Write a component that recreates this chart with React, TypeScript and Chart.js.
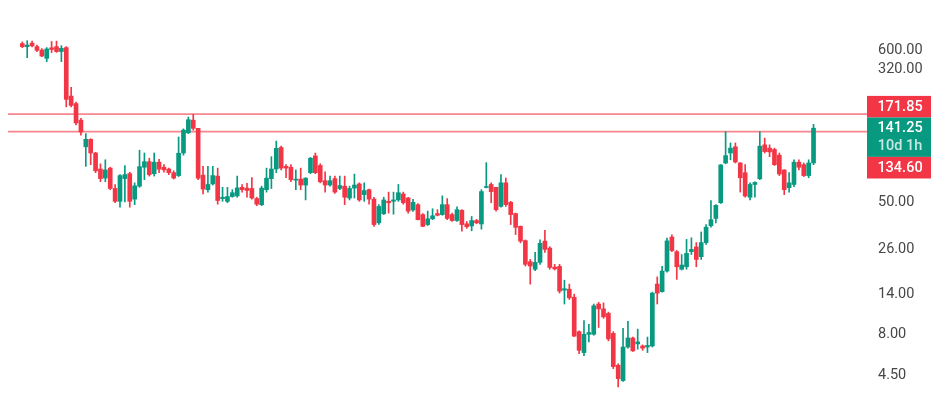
import React, { useEffect, useRef } from "react";
import { Chart, registerables } from "chart.js";

Chart.register(...registerables);

// Candle values (price), one entry per candle, left to right
const openPrices = [
  459, 440, 462, 440, 420, 374, 433, 440, 411, 434,
  221, 199, 158, 109, 121, 100, 80, 70.5, 81, 61,
  51, 70, 75, 52.6, 63, 82, 88.6, 75, 88, 82,
  80, 76, 73, 100, 132.5, 158, 141, 73.5, 60, 65,
  72.5, 53, 51, 54.5, 55, 62, 61.3, 61, 53, 48.7,
  60, 70, 80, 108, 83, 82, 68.5, 69.5, 64, 76,
  96, 84, 68, 64, 70, 61, 63, 53.4, 61.3, 65,
  56, 60, 52.6, 37.8, 42.9, 51, 51, 52, 56.5, 53.4,
  45.2, 48.7, 42.4, 36.9, 40, 43, 42.4, 48.7, 42.4, 39,
  45, 37.3, 36.2, 39, 37.2, 61.8, 64.5, 62, 47.5, 66,
  50.3, 43, 36, 29.5, 22, 19.8, 21.8, 29.3, 26.6, 20.4,
  20.6, 14.8, 15, 13.4, 8.3, 6.2, 8.0, 8.0, 12.2, 11.4,
  10.7, 8.1, 5.2, 4.2, 6.7, 7.6, 7.0, 6.8, 6.7, 6.8,
  16.1, 14.5, 19.3, 31, 25.3, 19.8, 20.5, 25.3, 27, 23.6,
  28.7, 36.3, 40.2, 50, 87, 100, 109, 87, 76, 54,
  64.5, 69.8, 112, 107, 105, 97, 79, 61.7, 64.5, 88,
  85, 73, 87,
];

const closePrices = [
  440, 450, 445, 418, 386, 426, 423, 411, 430, 211,
  194, 152, 134, 121, 100, 78, 70, 79, 61, 51,
  73, 74, 51, 63.3, 82.7, 88.6, 74, 88, 79.8, 79,
  76, 70.5, 99.6, 137.5, 159, 141, 70.4, 60.5, 64.5, 73,
  51.6, 54, 54.5, 57.5, 61.5, 60, 59.3, 53.4, 49, 61.3,
  70.4, 80, 106.7, 81, 81, 69, 69.5, 64, 70.4, 93,
  76, 67, 64, 68, 58, 63.5, 54, 61, 64, 52,
  59.3, 52.6, 36.9, 47.5, 52, 50, 52, 57.5, 50, 44.5,
  50.3, 39.5, 36, 40, 41.7, 42, 48.7, 40.2, 39, 45.4,
  36.9, 35.8, 39, 37.8, 58.4, 62.5, 58.4, 45.4, 66, 48.7,
  42.4, 35.5, 29.3, 21.2, 20.7, 21.8, 28.4, 26.1, 20.3, 19.9,
  14.6, 15.1, 13.3, 7.8, 6.4, 8.0, 8.2, 11.9, 11.4, 10.2,
  7.5, 5.1, 4.31, 6.7, 7.6, 6.35, 7.2, 6.6, 6.85, 14.2,
  14.2, 19.3, 29.4, 25.7, 20.5, 21, 24.7, 26.1, 22.7, 28.7,
  35.6, 39.5, 48.2, 84.7, 96.4, 107, 88.2, 70.8, 54.9, 64.5,
  66.4, 110, 102, 101.5, 85, 74.6, 60, 66, 88, 82,
  73, 87, 141.25,
];

const highPrices = [
  470, 478, 475, 450, 428, 434, 473, 475, 446, 440,
  250, 203, 162, 131, 122, 101, 86, 91, 82, 64.5,
  74, 84, 76.5, 66, 104, 100, 93, 100, 91.6, 85,
  81, 78, 125, 140, 165, 171.6, 141, 83, 83, 83,
  81, 62, 62, 60, 72.5, 64.5, 65.5, 71, 54, 63,
  81, 95, 118, 110, 85, 85, 79, 81, 71, 94,
  100, 86, 77, 72.5, 72.5, 72.5, 72.5, 63, 74.5, 66,
  66, 60.5, 54, 48.7, 54, 58, 58, 64.5, 58, 54,
  52.5, 49.5, 43, 44.5, 46, 45.4, 55, 53, 43.3, 47.3,
  45.4, 38.5, 41.3, 39.7, 60, 87.4, 66, 62, 74, 70.4,
  51, 43.3, 36.2, 29.8, 22.7, 25.1, 29.8, 34, 27.1, 21.2,
  21.2, 17, 16.1, 14, 8.4, 9.7, 9.2, 12.2, 12.5, 12.4,
  10.9, 8.3, 5.3, 8.7, 9.6, 7.7, 8.6, 6.9, 7.7, 14.4,
  17.8, 20.6, 30.6, 32, 25.7, 24.3, 30, 30.7, 28.7, 33.3,
  36.9, 51.6, 48.7, 85, 134.6, 115, 115, 87.5, 85, 66,
  67, 134.6, 123, 112, 107, 100, 79, 76, 91, 91,
  87, 91, 149,
];

const lowPrices = [
  434, 377, 438, 410, 382, 357, 405, 406, 357, 190,
  190, 148, 128, 83, 85, 76, 67, 67, 60, 50,
  47, 50.5, 47, 48.7, 62, 69, 72.5, 72.5, 76, 76.5,
  74, 69.6, 72, 97, 131, 137.5, 69, 56.6, 58, 64,
  49, 51, 50, 54, 54, 58, 54, 52.6, 48, 48,
  58, 61, 76, 79, 71, 67, 60, 60, 52, 75,
  75, 66, 58, 63, 57, 60, 48.7, 52, 53.4, 51,
  51, 49, 36, 37, 42.4, 43.3, 42.6, 51, 49, 43.3,
  44.3, 39.3, 35.8, 36.4, 39.5, 41.6, 42, 39.5, 38.5, 38.5,
  33.6, 35, 33.8, 37.3, 34.6, 61.5, 50, 44.5, 47, 47.5,
  36.9, 32.1, 28.6, 20.7, 16.1, 19.4, 21.2, 25, 19.8, 19.6,
  14.2, 12.2, 13, 7.75, 6.1, 5.95, 7.2, 7.9, 8.8, 10.0,
  7.3, 4.96, 3.85, 4.15, 6.6, 6.3, 6.5, 6.4, 6.2, 6.7,
  12.2, 14.4, 19, 25.3, 17.2, 19.6, 19.8, 24.3, 20.5, 22.7,
  28, 35.6, 37.7, 49.5, 86, 91, 87, 58, 54, 52,
  54, 69, 100, 95, 84, 73, 56, 58, 62.6, 79,
  72, 70.8, 85,
];

// Price axis ticks (value where the label sits) and their texts
const tickValues = [4.5, 8, 14, 26, 50, 320, 418];
const tickLabels = ["4.50", "8.00", "14.00", "26.00", "50.00", "320.00", "600.00"];

// Horizontal levels and last-price badge
const levelLines = [171.85, 134.6];
const lastPrice = 141.25;
const countdownText = "10d 1h";

const GREEN = "#089981";
const RED = "#F23645";

export default function App() {
  const ref = useRef<HTMLCanvasElement | null>(null);

  useEffect(() => {
    if (!ref.current) return;
    const idx = openPrices.map((_, i) => i);
    const colors = idx.map((i) => (closePrices[i] >= openPrices[i] ? GREEN : RED));

    const overlay = {
      id: "overlay",
      beforeDatasetsDraw(chart: any) {
        const { ctx, chartArea } = chart;
        const yS = chart.scales.y;
        ctx.save();
        ctx.strokeStyle = "rgba(242,54,69,0.6)";
        ctx.lineWidth = 1.6;
        levelLines.forEach((v) => {
          const y = yS.getPixelForValue(v);
          ctx.beginPath();
          ctx.moveTo(chartArea.left, y);
          ctx.lineTo(867, y);
          ctx.stroke();
        });
        ctx.restore();
      },
      afterDraw(chart: any) {
        const { ctx } = chart;
        const yS = chart.scales.y;
        const py = yS.getPixelForValue(lastPrice);
        const bx = 867;
        const bw = 64;
        const gTop = py - 10.7;
        const gH = 39.4;
        const rH = 21.6;
        const cx = bx + bw / 2 + 1;
        ctx.save();
        ctx.fillStyle = RED;
        ctx.fillRect(bx, gTop - rH, bw, rH);
        ctx.fillStyle = GREEN;
        ctx.fillRect(bx, gTop, bw, gH);
        ctx.fillStyle = RED;
        ctx.fillRect(bx, gTop + gH, bw, rH);
        ctx.textAlign = "center";
        ctx.textBaseline = "middle";
        ctx.font = "500 14.5px Roboto";
        ctx.fillStyle = "#ffffff";
        ctx.fillText(levelLines[0].toFixed(2), cx, gTop - rH / 2 + 0.5);
        ctx.fillText(lastPrice.toFixed(2), cx, py + 0.5);
        ctx.fillText(levelLines[1].toFixed(2), cx, gTop + gH + rH / 2 + 0.5);
        ctx.fillStyle = "rgba(255,255,255,0.78)";
        ctx.fillText(countdownText, cx, py + 18.5);
        ctx.restore();
      },
    };

    const chart = new Chart(ref.current, {
      type: "bar",
      data: {
        datasets: [
          {
            label: "wick",
            data: idx.map((i) => ({ x: i, y: [lowPrices[i], highPrices[i]] })),
            backgroundColor: colors,
            barThickness: 1,
            grouped: false,
            order: 2,
          } as any,
          {
            label: "body",
            data: idx.map((i) => ({ x: i, y: [openPrices[i], closePrices[i]] })),
            backgroundColor: colors,
            barThickness: 4,
            minBarLength: 1,
            grouped: false,
            order: 1,
          } as any,
        ],
      },
      options: {
        animation: false,
        responsive: false,
        events: [],
        layout: { padding: { left: 8, top: 0, right: 0, bottom: 0 } },
        plugins: { legend: { display: false }, tooltip: { enabled: false } },
        scales: {
          x: {
            type: "linear",
            display: false,
            min: -2.93,
            max: 170.9,
            offset: false,
          },
          y: {
            type: "logarithmic",
            position: "right",
            min: 3.03,
            max: 842.5,
            bounds: "data",
            grid: { display: false, drawTicks: false },
            border: { display: false },
            afterBuildTicks: (s: any) => {
              s.ticks = tickValues.map((v) => ({ value: v }));
            },
            afterFit: (s: any) => {
              s.width = 86;
              s.paddingTop = 0;
              s.paddingBottom = 0;
            },
            ticks: {
              autoSkip: false,
              padding: 21,
              color: "#474747",
              font: { family: "Roboto", size: 14.5 },
              callback: (v: any) => {
                const k = tickValues.indexOf(Number(v));
                return k >= 0 ? tickLabels[k] : "";
              },
            },
          } as any,
        },
      } as any,
      plugins: [overlay],
    });
    return () => chart.destroy();
  }, []);

  return (
    <div style={{ position: "fixed", left: 0, top: 0, width: 943, height: 404, background: "#ffffff" }}>
      <canvas ref={ref} width={943} height={404} style={{ display: "block" }} />
    </div>
  );
}
